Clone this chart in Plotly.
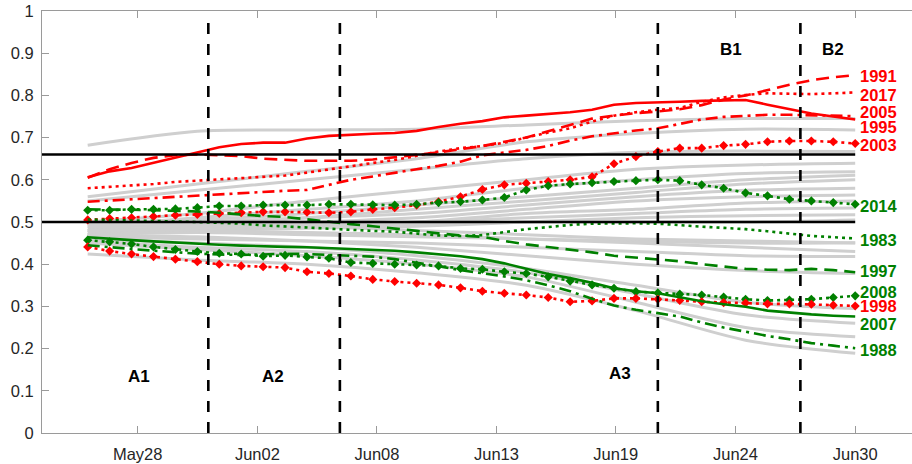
import plotly.graph_objects as go
import pandas as pd

# ---------------- data ----------------
dates = pd.date_range("2017-05-26", "2017-06-30", freq="D")

tick_pos = ["2017-05-28 06:43", "2017-06-02 17:46", "2017-06-08 04:34", "2017-06-13 15:22",
            "2017-06-19 01:55", "2017-06-24 12:58", "2017-06-30 00:00"]
tick_text = ["May28", "Jun02", "Jun08", "Jun13", "Jun19", "Jun24", "Jun30"]

y_ticks = [0, 0.1, 0.2, 0.3, 0.4, 0.5, 0.6, 0.7, 0.8, 0.9, 1]
y_ticktext = ["0", "0.1", "0.2", "0.3", "0.4", "0.5", "0.6", "0.7", "0.8", "0.9", "1"]

# background years (gray), sampled every 5 days
gray_idx = [0, 5, 10, 15, 20, 25, 30, 35]
gray_series = [
    [0.682, 0.715, 0.718, 0.720, 0.730, 0.740, 0.745, 0.745],
    [0.560, 0.590, 0.620, 0.650, 0.690, 0.710, 0.720, 0.718],
    [0.550, 0.575, 0.600, 0.625, 0.650, 0.665, 0.668, 0.667],
    [0.500, 0.520, 0.550, 0.575, 0.600, 0.625, 0.635, 0.639],
    [0.490, 0.510, 0.530, 0.550, 0.580, 0.600, 0.615, 0.619],
    [0.500, 0.505, 0.520, 0.540, 0.560, 0.580, 0.600, 0.611],
    [0.480, 0.490, 0.510, 0.530, 0.550, 0.570, 0.590, 0.600],
    [0.495, 0.500, 0.510, 0.520, 0.540, 0.560, 0.575, 0.580],
    [0.485, 0.495, 0.500, 0.510, 0.530, 0.550, 0.560, 0.564],
    [0.470, 0.480, 0.490, 0.500, 0.520, 0.530, 0.545, 0.550],
    [0.490, 0.490, 0.495, 0.500, 0.510, 0.520, 0.530, 0.533],
    [0.475, 0.480, 0.485, 0.490, 0.500, 0.510, 0.515, 0.517],
    [0.480, 0.485, 0.490, 0.495, 0.500, 0.500, 0.500, 0.505],
    [0.470, 0.475, 0.470, 0.465, 0.460, 0.455, 0.450, 0.451],
    [0.480, 0.480, 0.475, 0.470, 0.460, 0.450, 0.440, 0.430],
    [0.465, 0.460, 0.455, 0.450, 0.440, 0.430, 0.420, 0.418],
    [0.470, 0.465, 0.455, 0.440, 0.420, 0.400, 0.385, 0.378],
    [0.460, 0.450, 0.440, 0.420, 0.390, 0.350, 0.310, 0.295],
    [0.455, 0.440, 0.430, 0.410, 0.380, 0.330, 0.280, 0.260],
    [0.450, 0.435, 0.420, 0.400, 0.370, 0.310, 0.250, 0.228],
    [0.424, 0.410, 0.400, 0.380, 0.350, 0.290, 0.220, 0.189],
    [0.500, 0.500, 0.490, 0.480, 0.470, 0.460, 0.455, 0.450],
]

y1991 = [0.605, 0.625, 0.640, 0.652, 0.658, 0.660, 0.658, 0.656, 0.650, 0.648, 0.645, 0.645,
         0.645, 0.648, 0.653, 0.659, 0.665, 0.672, 0.680, 0.690, 0.700, 0.715, 0.730, 0.745,
         0.752, 0.758, 0.762, 0.767, 0.777, 0.790, 0.800, 0.813, 0.825, 0.836, 0.843, 0.848]
y2017 = [0.580, 0.583, 0.587, 0.590, 0.595, 0.598, 0.601, 0.604, 0.607, 0.610, 0.617, 0.624,
         0.632, 0.640, 0.647, 0.657, 0.667, 0.675, 0.680, 0.688, 0.700, 0.712, 0.722, 0.738,
         0.752, 0.760, 0.766, 0.770, 0.785, 0.795, 0.801, 0.805, 0.804, 0.803, 0.805, 0.807]
y2005 = [0.606, 0.620, 0.628, 0.640, 0.652, 0.665, 0.677, 0.685, 0.688, 0.688, 0.698, 0.704,
         0.707, 0.709, 0.711, 0.716, 0.725, 0.733, 0.739, 0.748, 0.752, 0.756, 0.760, 0.766,
         0.778, 0.782, 0.783, 0.785, 0.787, 0.788, 0.789, 0.778, 0.768, 0.757, 0.750, 0.743]
y1995 = [0.548, 0.551, 0.554, 0.557, 0.560, 0.563, 0.566, 0.569, 0.572, 0.574, 0.576, 0.588,
         0.600, 0.608, 0.617, 0.625, 0.633, 0.643, 0.658, 0.665, 0.671, 0.680, 0.693, 0.703,
         0.710, 0.717, 0.722, 0.733, 0.743, 0.749, 0.752, 0.754, 0.754, 0.753, 0.752, 0.751]
y2003 = [0.505, 0.508, 0.510, 0.513, 0.516, 0.518, 0.520, 0.522, 0.524, 0.524, 0.523, 0.522,
         0.524, 0.530, 0.534, 0.540, 0.548, 0.560, 0.577, 0.588, 0.592, 0.596, 0.600, 0.607,
         0.638, 0.655, 0.667, 0.675, 0.675, 0.681, 0.684, 0.690, 0.692, 0.692, 0.690, 0.686]
y2014 = [0.528, 0.528, 0.530, 0.530, 0.531, 0.534, 0.538, 0.538, 0.540, 0.540, 0.540, 0.542,
         0.542, 0.541, 0.540, 0.542, 0.546, 0.548, 0.552, 0.558, 0.576, 0.586, 0.590, 0.593,
         0.596, 0.598, 0.600, 0.598, 0.588, 0.580, 0.569, 0.562, 0.554, 0.550, 0.546, 0.542]
y1983 = [0.506, 0.505, 0.504, 0.503, 0.502, 0.500, 0.498, 0.496, 0.492, 0.490, 0.487, 0.484,
         0.481, 0.479, 0.477, 0.472, 0.468, 0.467, 0.469, 0.476, 0.483, 0.488, 0.493, 0.496,
         0.497, 0.497, 0.496, 0.492, 0.489, 0.486, 0.483, 0.478, 0.472, 0.467, 0.464, 0.461]
y1997 = [0.530, 0.530, 0.529, 0.528, 0.527, 0.525, 0.522, 0.518, 0.514, 0.512, 0.506, 0.500,
         0.495, 0.490, 0.485, 0.479, 0.473, 0.468, 0.465, 0.455, 0.447, 0.441, 0.435, 0.428,
         0.420, 0.416, 0.412, 0.407, 0.400, 0.394, 0.389, 0.387, 0.386, 0.389, 0.386, 0.381]
y2008 = [0.457, 0.453, 0.448, 0.441, 0.435, 0.430, 0.426, 0.424, 0.419, 0.421, 0.417, 0.414,
         0.404, 0.402, 0.400, 0.398, 0.396, 0.390, 0.388, 0.382, 0.378, 0.370, 0.360, 0.351,
         0.343, 0.335, 0.332, 0.329, 0.327, 0.322, 0.317, 0.314, 0.315, 0.317, 0.321, 0.325]
y1998 = [0.441, 0.431, 0.424, 0.418, 0.412, 0.406, 0.400, 0.396, 0.394, 0.392, 0.382, 0.378,
         0.372, 0.364, 0.359, 0.355, 0.351, 0.344, 0.336, 0.331, 0.327, 0.321, 0.311, 0.313,
         0.319, 0.319, 0.317, 0.314, 0.311, 0.309, 0.308, 0.306, 0.306, 0.305, 0.303, 0.301]
y2007 = [0.464, 0.460, 0.457, 0.454, 0.451, 0.448, 0.446, 0.444, 0.442, 0.441, 0.440, 0.438,
         0.437, 0.435, 0.432, 0.428, 0.423, 0.419, 0.412, 0.402, 0.389, 0.377, 0.367, 0.356,
         0.343, 0.336, 0.331, 0.322, 0.312, 0.305, 0.299, 0.290, 0.285, 0.281, 0.278, 0.276]
y1988 = [0.445, 0.440, 0.436, 0.432, 0.428, 0.425, 0.423, 0.422, 0.423, 0.425, 0.424, 0.422,
         0.421, 0.418, 0.412, 0.404, 0.395, 0.386, 0.379, 0.371, 0.362, 0.350, 0.336, 0.318,
         0.302, 0.292, 0.284, 0.276, 0.262, 0.250, 0.240, 0.230, 0.222, 0.213, 0.207, 0.201]

thresholds = [0.66, 0.5]
phase_bounds = ["2017-05-31 12:00", "2017-06-06 12:00", "2017-06-21 00:00", "2017-06-27 12:00"]
phase_names = ["A1", "A2", "A3", "B1", "B2"]

# ---------------- styles / layout helpers ----------------
RED = "#ff0000"
GREEN = "#008000"
DOT = "3px,4px"
DASH = "13px,7px"
DASHDOT = "12px,5px,3px,5px"

highlight = [
    ("1991", y1991, RED, DASH, False, 0.846),
    ("2017", y2017, RED, DOT, False, 0.801),
    ("2005", y2005, RED, "solid", False, 0.761),
    ("1995", y1995, RED, DASHDOT, False, 0.725),
    ("2003", y2003, RED, DOT, True, 0.682),
    ("2014", y2014, GREEN, DOT, True, 0.539),
    ("1983", y1983, GREEN, DOT, False, 0.457),
    ("1997", y1997, GREEN, DASH, False, 0.384),
    ("2008", y2008, GREEN, DOT, True, 0.335),
    ("1998", y1998, RED, DOT, True, 0.301),
    ("2007", y2007, GREEN, "solid", False, 0.258),
    ("1988", y1988, GREEN, DASHDOT, False, 0.197),
]

phase_label_pos = [("2017-05-28 08:00", 0.133), ("2017-06-03 11:00", 0.133),
                   ("2017-06-19 07:00", 0.142), ("2017-06-24 08:00", 0.908),
                   ("2017-06-29 00:00", 0.908)]

x_range = ["2017-05-23 21:59", "2017-07-02 14:10"]
FONT = "Liberation Sans, Arial, Helvetica, sans-serif"

fig = go.Figure()

gx = [dates[i] for i in gray_idx]
for g in gray_series:
    fig.add_trace(go.Scatter(x=gx, y=g, mode="lines", line=dict(color="#cfcfcf", width=3, shape="spline", smoothing=0.8),
                             hoverinfo="skip", showlegend=False))

for name, vals, col, dash, mk, ly in highlight:
    fig.add_trace(go.Scatter(
        x=dates, y=vals, mode="lines+markers" if mk else "lines",
        line=dict(color=col, width=2.6, dash=dash),
        marker=dict(symbol="diamond", size=7, color=col) if mk else None,
        name=name, showlegend=False))
    fig.add_annotation(x=dates[-1], y=ly, text="<b>%s</b>" % name, showarrow=False,
                       xanchor="left", yanchor="middle", xshift=3,
                       font=dict(family=FONT, size=16.5, color=col))

for t in thresholds:
    fig.add_shape(type="line", xref="x", yref="y", x0=x_range[0], x1=dates[-1], y0=t, y1=t,
                  line=dict(color="black", width=2.6))

for b in phase_bounds:
    fig.add_shape(type="line", xref="x", yref="y", x0=b, x1=b, y0=0, y1=0.975,
                  line=dict(color="black", width=2.6, dash="11px,10px"))

for name, (px, py) in zip(phase_names, phase_label_pos):
    fig.add_annotation(x=px, y=py, text="<b>%s</b>" % name, showarrow=False,
                       xanchor="center", yanchor="middle",
                       font=dict(family=FONT, size=17, color="black"))

fig.update_layout(
    width=912, height=464,
    margin=dict(l=42, r=0, t=11, b=31),
    paper_bgcolor="white", plot_bgcolor="white",
    font=dict(family=FONT, size=16.5, color="#262626"),
    showlegend=False,
)
fig.update_xaxes(type="date", range=x_range, tickvals=tick_pos, ticktext=tick_text,
                 ticks="inside", ticklen=7, tickcolor="#9a9a9a", tickwidth=1,
                 showline=True, linecolor="#9a9a9a", linewidth=1, mirror="ticks",
                 showgrid=False, zeroline=False, ticklabelstandoff=6,
                 tickfont=dict(family=FONT, size=16.5, color="#262626"))
fig.update_yaxes(range=[0, 1], tickvals=y_ticks, ticktext=y_ticktext,
                 ticks="inside", ticklen=7, tickcolor="#9a9a9a", tickwidth=1,
                 showline=True, linecolor="#9a9a9a", linewidth=1, mirror=False,
                 showgrid=False, zeroline=False, ticklabelstandoff=4,
                 tickfont=dict(family=FONT, size=16.5, color="#262626"))

# remove the default page margin so the 912x464 figure fills the window exactly
fig.write_html("out.html", config={"displayModeBar": False},
               post_script="document.body.style.margin='0';document.body.style.overflow='hidden';")
